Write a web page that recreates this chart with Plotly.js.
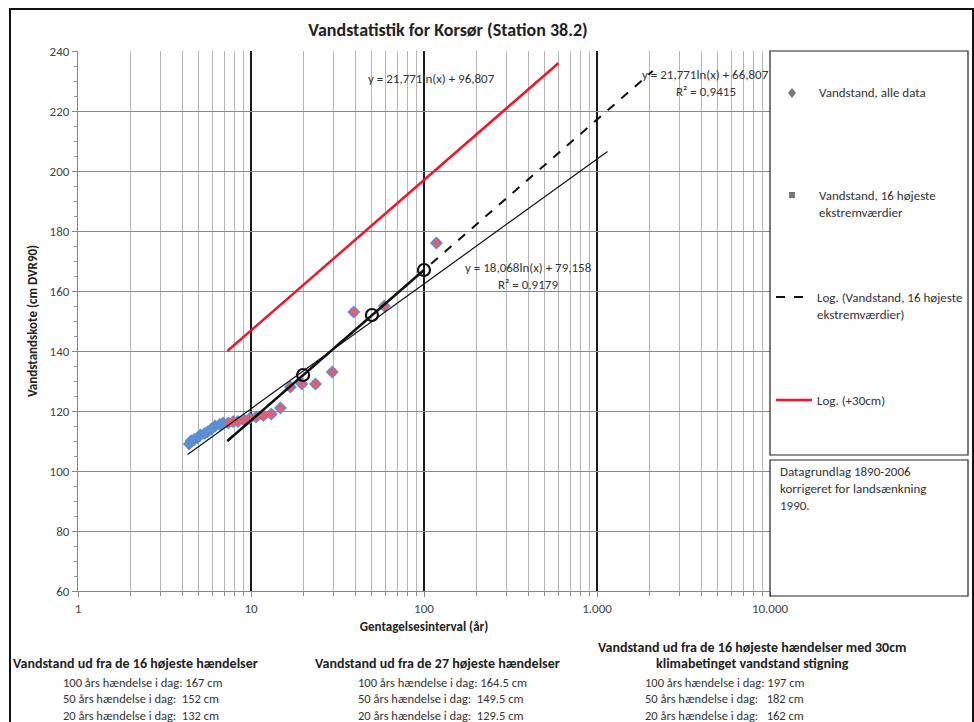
<!DOCTYPE html>
<html><head><meta charset="utf-8">
<script src="https://cdn.plot.ly/plotly-3.0.1.min.js"></script>
<style>
html,body{margin:0;padding:0;background:#fff;}
#wrap{position:relative;width:974px;height:722px;overflow:hidden;}
#chart{position:absolute;left:0;top:0;width:974px;height:722px;}
#frame{position:absolute;left:9px;top:8px;width:961px;height:730px;border:2px solid #111;pointer-events:none;}
</style></head>
<body><div id="wrap"><div id="chart"></div><div id="frame"></div></div>
<script>
// ---- data ----
const allX = [118, 59, 39.3, 29.5, 23.6, 19.7, 16.9, 14.8, 13.1, 11.8, 10.7, 9.8, 9.1, 8.4, 7.9, 7.4, 6.9, 6.6, 6.2, 5.9, 5.6, 5.4, 5.1, 4.9, 4.7, 4.5, 4.4];
const allY = [176, 155, 153, 133, 129, 129, 128, 121, 119, 118.5, 118, 117.5, 117, 116.5, 116.5, 116, 116, 115.5, 115, 114, 113, 112.5, 112, 111, 110.5, 110, 109];
const topX = [118, 59, 39.3, 29.5, 23.6, 19.7, 16.9, 14.8, 13.1, 11.8, 10.7, 9.8, 9.1, 8.4, 7.9, 7.4];
const topY = [176, 155, 153, 133, 129, 129, 128, 121, 119, 118.5, 118, 117.5, 117, 116.5, 116.5, 116];
const fit27X = [4.3, 1150];   const fit27Y = [105.5, 206.5];
const fit16X = [7.3, 2100];   const fit16Y = [110, 233.3];
const plus30X = [7.3, 600];   const plus30Y = [140, 236];
const solidX = [7.3, 100];    const solidY = [110, 167];
const retX = [20, 50, 100];   const retY = [132, 152, 167];
const xTickVals = [1, 10, 100, 1000, 10000];
const xTickText = ['1', '10', '100', '1.000', '10.000'];
const xMinorVals = [];
[1, 10, 100, 1000].forEach(d => { for (let k = 2; k <= 9; k++) xMinorVals.push(d * k); });

const FONT = 'Carlito, "Liberation Sans Narrow", "Liberation Sans", Arial, sans-serif';
const L = 78, R = 770, T = 51, B = 591;
function P(px, py) { return { x: (px - L) / (R - L), y: (B - py) / (B - T), xref: 'paper', yref: 'paper' }; }
function txt(px, py, text, opts) {
  return Object.assign(P(px, py), { text: text, showarrow: false, xanchor: 'left', yanchor: 'middle',
    font: { family: FONT, size: 13, color: '#333' } }, opts || {});
}
const eqFont = { family: FONT, size: 13, color: '#333' };
const hdFont = { family: FONT, size: 14, color: '#222' };
const valFont = { family: FONT, size: 12.5, color: '#333' };
const valOpts = { font: valFont, align: 'left', borderpad: 0 };

const traces = [
  { x: allX, y: allY, mode: 'markers', type: 'scatter', name: 'Vandstand, alle data',
    marker: { symbol: 'diamond', size: 10, color: '#5a8fd2' }, showlegend: false },
  { x: topX, y: topY, mode: 'markers', type: 'scatter', name: 'Vandstand, 16 højeste ekstremværdier',
    marker: { symbol: 'square', size: 7, color: '#d8627a' }, showlegend: false },
  { x: fit27X, y: fit27Y, mode: 'lines', type: 'scatter', line: { color: '#111', width: 1.2 }, showlegend: false },
  { x: fit16X, y: fit16Y, mode: 'lines', type: 'scatter', name: 'Log. (Vandstand, 16 højeste ekstremværdier)',
    line: { color: '#111', width: 2, dash: 'dash' }, showlegend: false },
  { x: solidX, y: solidY, mode: 'lines', type: 'scatter', line: { color: '#111', width: 2.5 }, showlegend: false },
  { x: retX, y: retY, mode: 'markers', type: 'scatter',
    marker: { symbol: 'circle-open', size: 12, color: '#111', line: { width: 2.2, color: '#111' } }, showlegend: false },
  { x: plus30X, y: plus30Y, mode: 'lines', type: 'scatter', name: 'Log. (+30cm)',
    line: { color: '#f0162a', width: 2.5 }, showlegend: false }
];

const xr = (968 - L) / (R - L);
const shapes = [
  { type: 'rect', xref: 'paper', yref: 'paper', line: { color: '#222', width: 1.2 },
    x0: 1, x1: xr, y0: (B - 455) / (B - T), y1: 1 },
  { type: 'rect', xref: 'paper', yref: 'paper', line: { color: '#222', width: 1.2 },
    x0: 1, x1: xr, y0: (B - 596) / (B - T), y1: (B - 460) / (B - T) },
  { type: 'path', xref: 'paper', yref: 'paper', fillcolor: '#777', line: { width: 0 },
    path: 'M ' + P(792, 88).x + ' ' + P(792, 88).y + ' L ' + P(796, 93).x + ' ' + P(796, 93).y + ' L ' + P(792, 98).x + ' ' + P(792, 98).y + ' L ' + P(788, 93).x + ' ' + P(788, 93).y + ' Z' },
  { type: 'rect', xref: 'paper', yref: 'paper', fillcolor: '#777', line: { width: 0 },
    x0: P(789, 0).x, x1: P(795, 0).x, y0: P(0, 198).y, y1: P(0, 192).y },
  { type: 'line', xref: 'paper', yref: 'paper', line: { color: '#111', width: 2, dash: 'dash' },
    x0: P(776, 0).x, x1: P(812, 0).x, y0: P(0, 297).y, y1: P(0, 297).y },
  { type: 'line', xref: 'paper', yref: 'paper', line: { color: '#f0162a', width: 2.5 },
    x0: P(776, 0).x, x1: P(812, 0).x, y0: P(0, 400).y, y1: P(0, 400).y }
];

const annotations = [
  txt(366, 78, 'y = 21,771ln(x) + 96,807', { font: eqFont }),
  txt(771, 74, 'y = 21,771ln(x) + 66,807', { xanchor: 'right', font: eqFont }),
  txt(706, 91, 'R² = 0,9415', { xanchor: 'center', font: eqFont }),
  txt(528, 267, 'y = 18,068ln(x) + 79,158', { xanchor: 'center', font: eqFont }),
  txt(528, 284, 'R² = 0,9179', { xanchor: 'center', font: eqFont }),
  txt(817, 93, 'Vandstand, alle data'),
  txt(817, 195, 'Vandstand, 16 højeste'),
  txt(817, 212, 'ekstremværdier'),
  txt(815, 297, 'Log. (Vandstand, 16 højeste'),
  txt(815, 314, 'ekstremværdier)'),
  txt(815, 400, 'Log. (+30cm)'),
  txt(778, 488, 'Datagrundlag 1890-2006<br>korrigeret for landsænkning<br>1990.',
    { align: 'left', font: { family: FONT, size: 13, color: '#333' } }),
  txt(135, 663, '<b>Vandstand ud fra de 16 højeste hændelser</b>', { xanchor: 'center', font: hdFont }),
  txt(62, 699, '100 års hændelse i dag: 167 cm<br>50 års hændelse i dag:  152 cm<br>20 års hændelse i dag:  132 cm', valOpts),
  txt(437, 663, '<b>Vandstand ud fra de 27 højeste hændelser</b>', { xanchor: 'center', font: hdFont }),
  txt(357, 699, '100 års hændelse i dag: 164.5 cm<br>50 års hændelse i dag:  149.5 cm<br>20 års hændelse i dag:  129.5 cm', valOpts),
  txt(752, 647, '<b>Vandstand ud fra de 16 højeste hændelser med 30cm</b>', { xanchor: 'center', font: hdFont }),
  txt(752, 663, '<b>klimabetinget vandstand stigning</b>', { xanchor: 'center', font: hdFont }),
  txt(644, 699, '100 års hændelse i dag: 197 cm<br>50 års hændelse i dag:   182 cm<br>20 års hændelse i dag:   162 cm', valOpts)
];

const layout = {
  width: 974, height: 722,
  margin: { l: L, r: 974 - R, t: T, b: 722 - B, pad: 0 },
  paper_bgcolor: '#fff', plot_bgcolor: '#fff',
  font: { family: FONT, size: 13, color: '#444' },
  title: { text: '<b>Vandstatistik for Korsør (Station 38.2)</b>', x: 448 / 974, xanchor: 'center',
    y: 1 - 30 / 722, yanchor: 'middle', font: { family: FONT, size: 18, color: '#222' } },
  xaxis: {
    type: 'log', range: [0, 4], tickmode: 'array', tickvals: xTickVals, ticktext: xTickText,
    showgrid: true, gridcolor: '#1a1a1a', gridwidth: 1.5, zeroline: false,
    showline: true, linecolor: '#888', linewidth: 1, ticks: 'outside', ticklen: 5, tickcolor: '#888',
    tickfont: { family: FONT, size: 13, color: '#444' },
    minor: { tickmode: 'array', tickvals: xMinorVals, showgrid: true, gridcolor: '#b5b5b5', gridwidth: 1,
      ticks: 'outside', ticklen: 4, tickcolor: '#888' },
    title: { text: '<b>Gentagelsesinterval (år)</b>', standoff: 7, font: { family: FONT, size: 13, color: '#222' } }
  },
  yaxis: {
    range: [60, 240], dtick: 20, tick0: 60, showgrid: true, gridcolor: '#8a8a8a', gridwidth: 1, zeroline: false,
    showline: true, linecolor: '#888', linewidth: 1, ticks: 'outside', ticklen: 5, tickcolor: '#888',
    tickfont: { family: FONT, size: 13, color: '#444' },
    minor: { dtick: 5, ticks: 'outside', ticklen: 3, tickcolor: '#999', showgrid: false },
    title: { text: '<b>Vandstandskote (cm DVR90)</b>', standoff: 9, font: { family: FONT, size: 13, color: '#222' } }
  },
  shapes: shapes,
  annotations: annotations,
  showlegend: false
};
Plotly.newPlot('chart', traces, layout, { staticPlot: true, displayModeBar: false });
</script></body></html>
